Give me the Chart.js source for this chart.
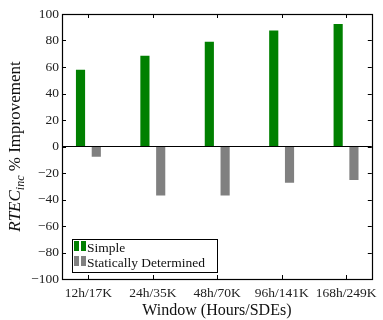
<!DOCTYPE html>
<html>
<head>
<meta charset="utf-8">
<script src="https://cdn.jsdelivr.net/npm/chart.js@4"></script>
<style>
  html, body { margin: 0; padding: 0; background: #fff; }
  #wrap { width: 383px; height: 320px; }
</style>
</head>
<body>
<div id="wrap"><canvas id="chart" width="383" height="320"></canvas></div>
<script>
// values
const categories = ["12h/17K", "24h/35K", "48h/70K", "96h/141K", "168h/249K"];
const simpleVals = [58, 68.5, 79, 87.5, 92.5];
const staticVals = [-7.7, -37, -37, -27.3, -25.3];
const yTicks = [-100, -80, -60, -40, -20, 0, 20, 40, 60, 80, 100];

const SERIF = "'Liberation Serif', 'Times New Roman', serif";

function fmtY(v) {
  return v < 0 ? "\u2212" + (-v) : String(v);
}

// frame, inward ticks, y title and the legend (matplotlib look)
const mplDecor = {
  id: "mplDecor",
  afterDraw(chart) {
    const ctx = chart.ctx;
    const a = chart.chartArea;
    const xs = chart.scales.x, ys = chart.scales.y;
    const tl = 4;
    ctx.save();
    ctx.strokeStyle = "#000";
    ctx.lineWidth = 1;

    ctx.beginPath();
    xs.ticks.forEach(t => {
      const px = Math.round(xs.getPixelForValue(t.value)) + 0.5;
      ctx.moveTo(px, a.bottom); ctx.lineTo(px, a.bottom - tl);
      ctx.moveTo(px, a.top); ctx.lineTo(px, a.top + tl);
    });
    yTicks.forEach(v => {
      const py = Math.round(ys.getPixelForValue(v)) + 0.5;
      ctx.moveTo(a.left, py); ctx.lineTo(a.left + tl, py);
      ctx.moveTo(a.right, py); ctx.lineTo(a.right - tl, py);
    });
    ctx.stroke();

    ctx.lineWidth = 1.2;
    ctx.strokeRect(Math.round(a.left) + 0.5, Math.round(a.top) + 0.5,
      Math.round(a.right - a.left), Math.round(a.bottom - a.top));

    // y axis title: RTEC_inc % Improvement
    const big = "italic 17px " + SERIF;
    const sub = "italic 12px " + SERIF;
    const rest = "17px " + SERIF;
    ctx.font = big; const w1 = ctx.measureText("RTEC").width;
    ctx.font = sub; const w2 = ctx.measureText("inc").width;
    ctx.font = rest; const w3 = ctx.measureText(" % Improvement").width;
    const total = w1 + w2 + w3;
    ctx.translate(20, (a.top + a.bottom) / 2);
    ctx.rotate(-Math.PI / 2);
    ctx.fillStyle = "#111";
    ctx.textBaseline = "alphabetic";
    let x = -total / 2;
    ctx.font = big; ctx.fillText("RTEC", x, 0); x += w1;
    ctx.font = sub; ctx.fillText("inc", x, 4); x += w2;
    ctx.font = rest; ctx.fillText(" % Improvement", x, 0);
    ctx.restore();

    // legend box, lower left inside the axes
    ctx.save();
    const bx = 72, by = 239, bw = 145, bh = 33;
    ctx.fillStyle = "#fff";
    ctx.fillRect(bx, by, bw, bh);
    ctx.strokeStyle = "#000";
    ctx.lineWidth = 1;
    ctx.strokeRect(bx + 0.5, by + 0.5, bw, bh);
    ctx.font = "13.5px " + SERIF;
    ctx.textBaseline = "alphabetic";
    chart.data.datasets.forEach((ds, i) => {
      const ry = by + 2 + i * 15;
      ctx.fillStyle = ds.backgroundColor;
      ctx.fillRect(bx + 2, ry, 5, 10);
      ctx.fillRect(bx + 9, ry, 5, 10);
      ctx.fillStyle = "#111";
      ctx.fillText(ds.label, bx + 15, ry + 11);
    });
    ctx.restore();
  }
};

new Chart(document.getElementById("chart").getContext("2d"), {
  type: "bar",
  data: {
    datasets: [
      {
        label: "Simple",
        data: simpleVals.map((v, i) => ({ x: i, y: v })),
        backgroundColor: "#008000"
      },
      {
        label: "Statically Determined",
        data: staticVals.map((v, i) => ({ x: i, y: v })),
        backgroundColor: "#808080"
      }
    ]
  },
  options: {
    responsive: false,
    animation: false,
    events: [],
    categoryPercentage: 0.49,
    barPercentage: 0.58,
    layout: { padding: { left: 0, right: 7, top: 14, bottom: 0 } },
    plugins: {
      legend: { display: false },
      tooltip: { enabled: false }
    },
    scales: {
      x: {
        type: "linear",
        min: -0.41,
        max: 4.4,
        offset: false,
        afterBuildTicks: s => { s.ticks = categories.map((c, i) => ({ value: i })); },
        afterFit: s => { s.height = 41; },
        grid: { display: false, drawTicks: false },
        border: { display: false },
        ticks: {
          autoSkip: false,
          maxRotation: 0,
          padding: 6,
          color: "#222",
          font: { family: SERIF, size: 13.5 },
          callback: v => categories[v]
        },
        title: {
          display: true,
          text: "Window (Hours/SDEs)",
          color: "#111",
          font: { family: SERIF, size: 16 },
          padding: { top: 0, bottom: 0 }
        }
      },
      y: {
        min: -100,
        max: 100,
        afterFit: s => { s.width = 62; },
        afterBuildTicks: s => { s.ticks = yTicks.map(v => ({ value: v })); },
        grid: {
          drawTicks: false,
          color: c => (c.tick && c.tick.value === 0 ? "#000" : "rgba(0,0,0,0)"),
          lineWidth: 1
        },
        border: { display: false },
        ticks: {
          padding: 3,
          color: "#222",
          font: { family: SERIF, size: 13.5 },
          callback: v => fmtY(v)
        }
      }
    }
  },
  plugins: [mplDecor]
});
</script>
</body>
</html>
